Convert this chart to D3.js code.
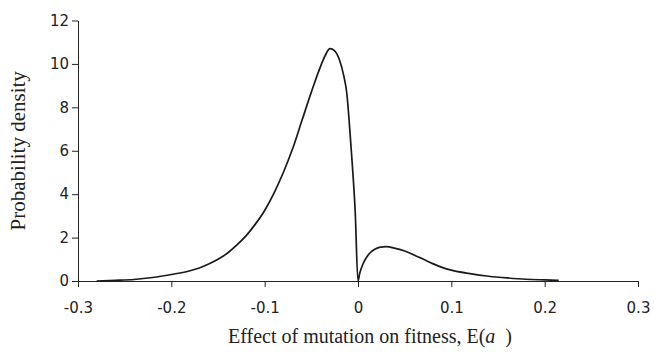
<!DOCTYPE html>
<html>
<head>
<meta charset="utf-8">
<script src="https://cdn.jsdelivr.net/npm/d3@7"></script>
<style>
  body { margin: 0; background: #fff; }
</style>
</head>
<body>
<script>
// effect of mutation (x) and probability density (y)
const effect = [-0.28, -0.26, -0.24, -0.22, -0.2, -0.18, -0.17, -0.16, -0.15, -0.14,
  -0.13, -0.12, -0.11, -0.1, -0.09, -0.08, -0.07, -0.06, -0.05, -0.04, -0.035,
  -0.03, -0.025, -0.02, -0.015, -0.012, -0.009, -0.006, -0.003, 0,
  0.002, 0.005, 0.009, 0.013, 0.018, 0.024, 0.03, 0.04, 0.05, 0.06, 0.07, 0.08, 0.09, 0.1,
  0.12, 0.14, 0.16, 0.18, 0.2, 0.215];
const density = [0, 0.03, 0.07, 0.16, 0.3, 0.47, 0.6, 0.78, 1.0, 1.28,
  1.65, 2.08, 2.62, 3.25, 4.05, 5.0, 6.1, 7.4, 8.7, 9.9, 10.4,
  10.7, 10.6, 10.2, 9.4, 8.65, 7.1, 5.3, 3.2, 0,
  0.38, 0.75, 1.08, 1.3, 1.46, 1.56, 1.58, 1.5, 1.38, 1.2, 1.0, 0.8, 0.63, 0.5,
  0.34, 0.22, 0.14, 0.08, 0.05, 0.03];
const xTicks = [-0.3, -0.2, -0.1, 0, 0.1, 0.2, 0.3];
const yTicks = [0, 2, 4, 6, 8, 10, 12];

const width = 654, height = 352;
const margin = {top: 20.5, right: 16, bottom: 71, left: 78};

const svg = d3.select("body").append("svg")
    .attr("width", width)
    .attr("height", height);

const x = d3.scaleLinear().domain([-0.3, 0.3]).range([margin.left, width - margin.right]);
const y = d3.scaleLinear().domain([0, 12]).range([height - margin.bottom, margin.top]);

const tickFont = "'DejaVu Sans', Verdana, sans-serif";

const xAxis = svg.append("g")
    .attr("transform", `translate(0,${height - margin.bottom})`)
    .call(d3.axisBottom(x).tickValues(xTicks).tickSize(6).tickSizeOuter(0)
      .tickFormat(d => d === 0 ? "0" : d3.format(".1f")(d).replace("−", "-")));
xAxis.select(".domain").attr("stroke", "#222");
xAxis.selectAll(".tick line").attr("stroke", "#222");
xAxis.selectAll("text")
    .attr("font-family", tickFont).attr("font-size", "15px")
    .attr("fill", "#222").attr("dy", "0").attr("y", 32);

const yAxis = svg.append("g")
    .attr("transform", `translate(${margin.left},0)`)
    .call(d3.axisLeft(y).tickValues(yTicks).tickSize(6).tickSizeOuter(0));
yAxis.select(".domain").attr("stroke", "#222");
yAxis.selectAll(".tick line").attr("stroke", "#222");
yAxis.selectAll("text")
    .attr("font-family", tickFont).attr("font-size", "15px")
    .attr("fill", "#222").attr("x", -9);

const pts = effect.map((e, i) => [e, density[i]]);
const line = d3.line()
    .x(d => x(d[0]))
    .y(d => y(d[1]))
    .curve(d3.curveMonotoneX);

svg.append("path")
    .datum(pts)
    .attr("fill", "none")
    .attr("stroke", "#1a1a1a")
    .attr("stroke-width", 1.7)
    .attr("d", line);

// axis titles
svg.append("text")
    .attr("transform", `translate(25,${(margin.top + height - margin.bottom) / 2}) rotate(-90)`)
    .attr("text-anchor", "middle")
    .attr("font-family", "'Liberation Serif', 'Times New Roman', serif")
    .attr("font-size", "21px")
    .attr("fill", "#222")
    .text("Probability density");

const xt = svg.append("text")
    .attr("x", 370).attr("y", 343)
    .attr("text-anchor", "middle")
    .attr("font-family", "'Liberation Serif', 'Times New Roman', serif")
    .attr("font-size", "20px")
    .attr("fill", "#222")
    .style("white-space", "pre");
xt.append("tspan").text("Effect of mutation on fitness, E(");
xt.append("tspan").attr("font-style", "italic").text("a");
xt.append("tspan").text("  )");
</script>
</body>
</html>
